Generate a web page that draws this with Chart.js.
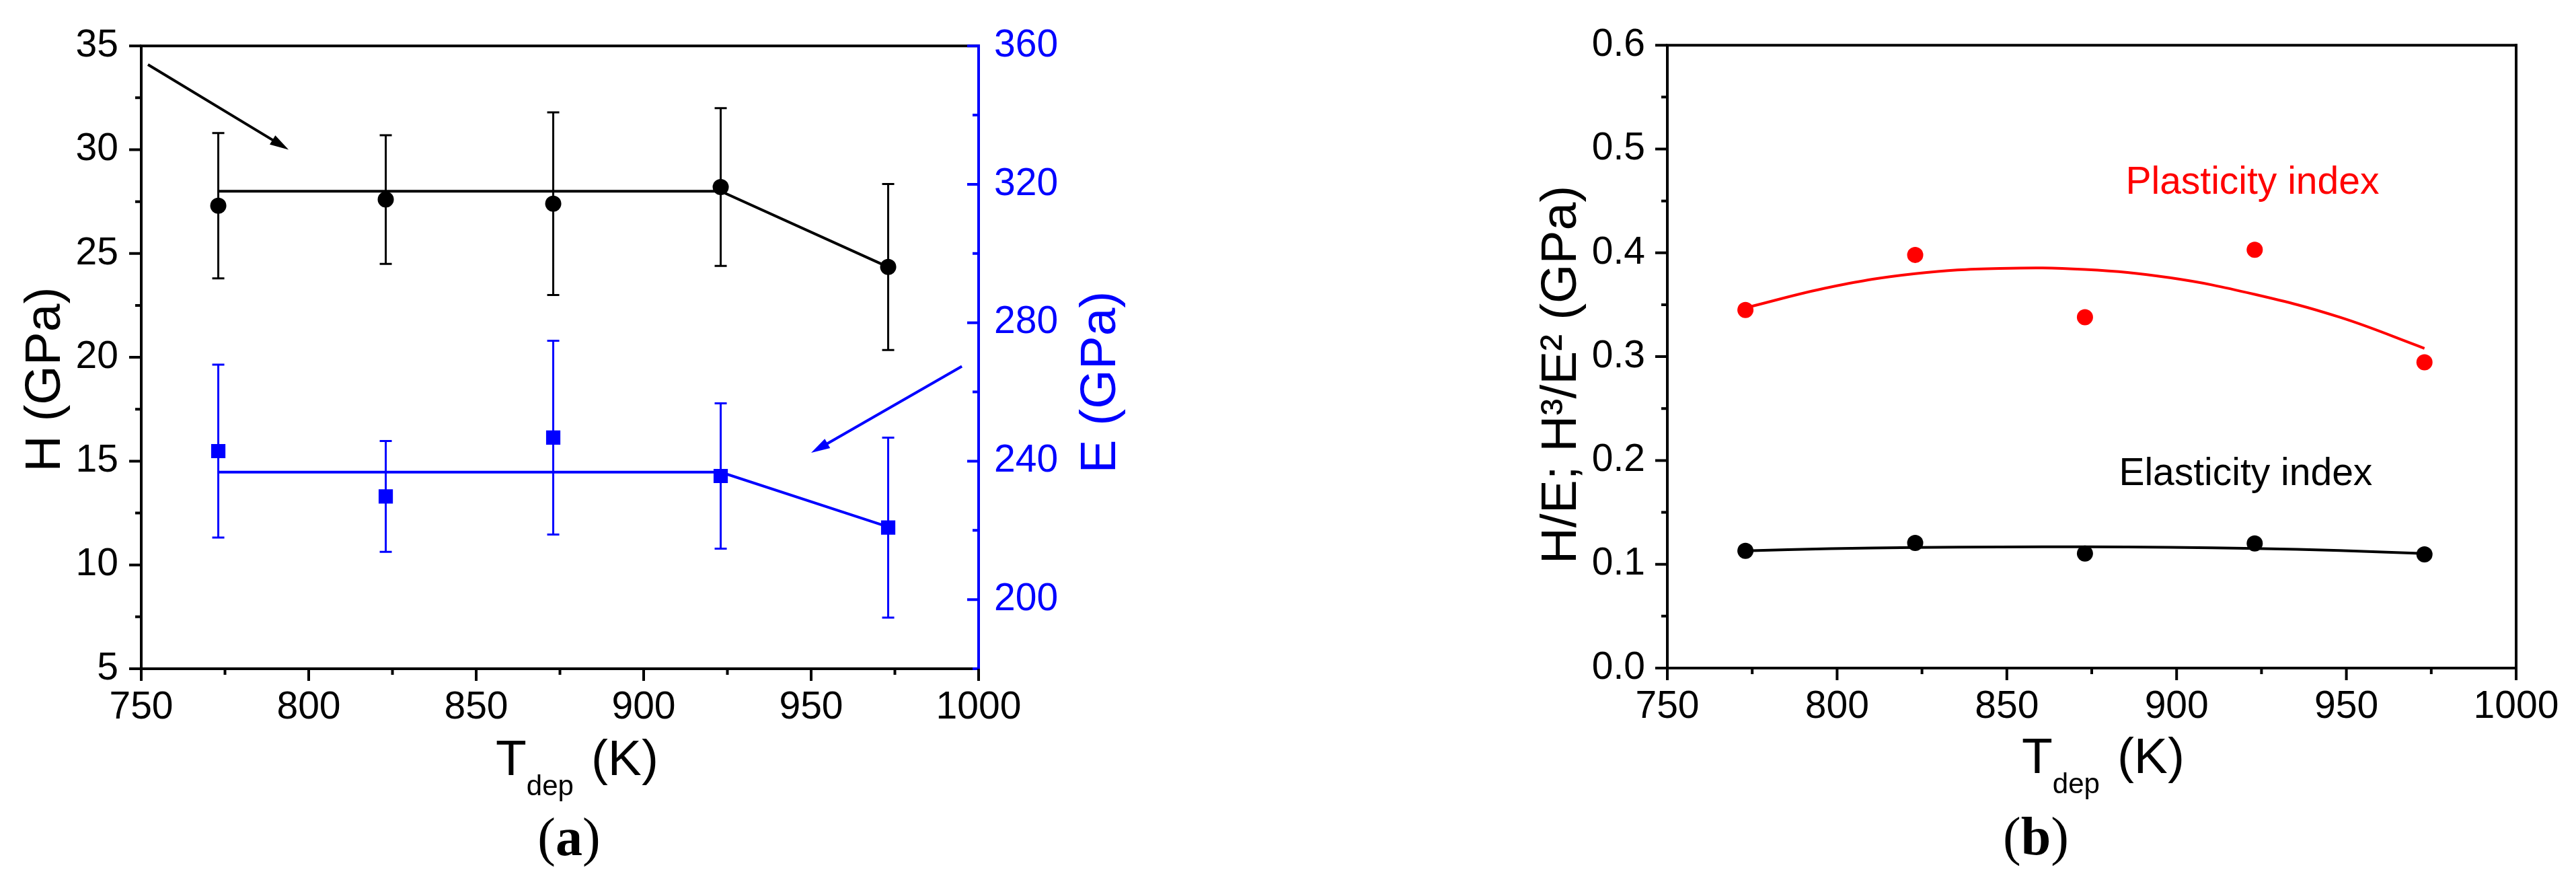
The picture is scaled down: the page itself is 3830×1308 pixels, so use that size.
<!DOCTYPE html>
<html>
<head>
<meta charset="utf-8">
<script src="https://cdn.jsdelivr.net/npm/chart.js@4.4.1/dist/chart.umd.min.js"></script>
<style>
    html, body { margin: 0; padding: 0; background: #fff; }
    #page { position: relative; width: 3830px; height: 1308px; background: #fff; }
    .panel { position: absolute; top: 0; }
    #panelA { left: 0; }
    #panelB { left: 2100px; }
</style>
</head>
<body>
<div id="page">
    <div class="panel" id="panelA"><canvas id="chartA" width="1760" height="1308"></canvas></div>
    <div class="panel" id="panelB"><canvas id="chartB" width="1730" height="1308"></canvas></div>
</div>
<script>
// Deposition temperatures (K)
const temps = [773, 823, 873, 923, 973];

// (a) hardness H and modulus E, with error bars and the guide lines
const hardness = [27.3, 27.6, 27.4, 28.2, 24.35];
const hardnessErr = [3.5, 3.1, 4.4, 3.8, 4.0];
const hardnessTrend = [28.0, 28.0, 28.0, 28.0, 24.35];
const modulus = [242.9, 229.8, 246.8, 235.7, 220.8];
const modulusErr = [25, 16, 28, 21, 26];
const modulusTrend = [236.8, 236.8, 236.8, 236.8, 221.0];

// arrows pointing to the axis of each series: x0, y0, x1, y1 (data units)
const hArrow = [752, 34.1, 794, 30.0];
const eArrow = [995, 267.4, 950, 242.4];

// (b) plasticity (H3/E2) and elasticity (H/E) indexes, with the fitted curves
const plasticity = [0.345, 0.398, 0.338, 0.403, 0.2945];
const elasticity = [0.113, 0.1205, 0.1104, 0.120, 0.1095];
const fitTemps = [773, 798, 823, 848, 873, 898, 923, 948, 973];
const plasticityFit = [0.347, 0.367, 0.380, 0.385, 0.384, 0.376, 0.360, 0.338, 0.308];
const elasticityFit = [0.1130, 0.1150, 0.1162, 0.1167, 0.1168, 0.1164, 0.1152, 0.1132, 0.1103];
const plasticityNote = [885, 0.4568];
const elasticityNote = [883, 0.1763];

// tick labels and minor ticks
const tempTicks = [750, 800, 850, 900, 950, 1000];
const tempMinor = [775, 825, 875, 925, 975];
const hTicks = [5, 10, 15, 20, 25, 30, 35];
const hMinor = [7.5, 12.5, 17.5, 22.5, 27.5, 32.5];
const eTicks = [200, 240, 280, 320, 360];
const eMinor = [180, 220, 260, 300, 340];
const ratioTicks = [0.0, 0.1, 0.2, 0.3, 0.4, 0.5, 0.6];
const ratioMinor = [0.05, 0.15, 0.25, 0.35, 0.45, 0.55];

const sans = '"Liberation Sans", Arial, sans-serif';
const serif = '"Liberation Serif", "Times New Roman", serif';
const blue = '#0000ff';
const red = '#ff0000';

function pts(xs, ys) {
    return xs.map((x, i) => ({ x: x, y: ys[i] }));
}

function fixedTicks(values) {
    return (scale) => { scale.ticks = values.map((v) => ({ value: v })); };
}

function drawErrorBars(chart) {
    const ctx = chart.ctx;
    for (const ds of chart.data.datasets) {
        if (!ds.errors) continue;
        const xs = chart.scales.x;
        const ys = chart.scales[ds.yAxisID];
        ctx.save();
        ctx.strokeStyle = ds.borderColor;
        ctx.lineWidth = 3;
        ctx.beginPath();
        ds.data.forEach((p, k) => {
            const px = xs.getPixelForValue(p.x);
            const top = ys.getPixelForValue(p.y + ds.errors[k]);
            const bot = ys.getPixelForValue(p.y - ds.errors[k]);
            ctx.moveTo(px, top); ctx.lineTo(px, bot);
            ctx.moveTo(px - 9, top); ctx.lineTo(px + 9, top);
            ctx.moveTo(px - 9, bot); ctx.lineTo(px + 9, bot);
        });
        ctx.stroke();
        ctx.restore();
    }
}

function drawFrame(ctx, area, rightColor) {
    ctx.save();
    ctx.lineWidth = 4;
    ctx.lineCap = 'square';
    ctx.strokeStyle = '#000';
    ctx.beginPath();
    ctx.moveTo(area.right, area.top);
    ctx.lineTo(area.left, area.top);
    ctx.lineTo(area.left, area.bottom);
    ctx.lineTo(area.right, area.bottom);
    ctx.stroke();
    ctx.strokeStyle = rightColor;
    ctx.beginPath();
    ctx.moveTo(area.right, area.top);
    ctx.lineTo(area.right, area.bottom);
    ctx.stroke();
    ctx.restore();
}

// horizontal tick marks on a vertical axis, len < 0 goes left
function yTickMarks(ctx, scale, x, values, len, color) {
    ctx.save();
    ctx.strokeStyle = color;
    ctx.lineWidth = 4;
    ctx.beginPath();
    for (const v of values) {
        const y = scale.getPixelForValue(v);
        ctx.moveTo(x, y);
        ctx.lineTo(x + len, y);
    }
    ctx.stroke();
    ctx.restore();
}

function xTickMarks(ctx, scale, y, values, len) {
    ctx.save();
    ctx.strokeStyle = '#000';
    ctx.lineWidth = 4;
    ctx.beginPath();
    for (const v of values) {
        const x = scale.getPixelForValue(v);
        ctx.moveTo(x, y);
        ctx.lineTo(x, y + len);
    }
    ctx.stroke();
    ctx.restore();
}

function drawArrow(ctx, xs, ys, arr, color) {
    const x0 = xs.getPixelForValue(arr[0]), y0 = ys.getPixelForValue(arr[1]);
    const x1 = xs.getPixelForValue(arr[2]), y1 = ys.getPixelForValue(arr[3]);
    const ang = Math.atan2(y1 - y0, x1 - x0);
    const head = 28, half = 8;
    const c = Math.cos(ang), s = Math.sin(ang);
    ctx.save();
    ctx.strokeStyle = color;
    ctx.fillStyle = color;
    ctx.lineWidth = 4;
    ctx.beginPath();
    ctx.moveTo(x0, y0);
    ctx.lineTo(x1 - c * head * 0.8, y1 - s * head * 0.8);
    ctx.stroke();
    ctx.beginPath();
    ctx.moveTo(x1, y1);
    ctx.lineTo(x1 - head * c + half * s, y1 - head * s - half * c);
    ctx.lineTo(x1 - head * c - half * s, y1 - head * s + half * c);
    ctx.closePath();
    ctx.fill();
    ctx.restore();
}

// axis title reading bottom to top, x is the baseline
function rotatedTitle(ctx, text, x, y, color) {
    ctx.save();
    ctx.translate(x, y);
    ctx.rotate(-Math.PI / 2);
    ctx.font = '75px ' + sans;
    ctx.fillStyle = color;
    ctx.textAlign = 'center';
    ctx.textBaseline = 'alphabetic';
    ctx.fillText(text, 0, 0);
    ctx.restore();
}

// "T_dep (K)" with a real subscript
function tempTitle(ctx, x, y) {
    ctx.save();
    ctx.fillStyle = '#000';
    ctx.textBaseline = 'alphabetic';
    ctx.textAlign = 'left';
    ctx.font = '75px ' + sans;
    ctx.fillText('T', x, y);
    x += ctx.measureText('T').width;
    ctx.font = '42px ' + sans;
    ctx.fillText('dep', x, y + 30);
    x += ctx.measureText('dep').width + 26;
    ctx.font = '75px ' + sans;
    ctx.fillText('(K)', x, y);
    ctx.restore();
}

function panelLabel(ctx, letter, cx, y) {
    ctx.save();
    ctx.fillStyle = '#000';
    ctx.textBaseline = 'alphabetic';
    ctx.textAlign = 'left';
    ctx.font = '80px ' + serif;
    const wp = ctx.measureText('(').width;
    ctx.font = 'bold 80px ' + serif;
    const wl = ctx.measureText(letter).width;
    let x = cx - (2 * wp + wl) / 2;
    ctx.font = '80px ' + serif;
    ctx.fillText('(', x, y);
    x += wp;
    ctx.font = 'bold 80px ' + serif;
    ctx.fillText(letter, x, y);
    x += wl;
    ctx.font = '80px ' + serif;
    ctx.fillText(')', x, y);
    ctx.restore();
}

function note(ctx, text, xs, ys, pos, color) {
    ctx.save();
    ctx.font = '57px ' + sans;
    ctx.fillStyle = color;
    ctx.textAlign = 'left';
    ctx.textBaseline = 'alphabetic';
    ctx.fillText(text, xs.getPixelForValue(pos[0]), ys.getPixelForValue(pos[1]));
    ctx.restore();
}

const decorA = {
    id: 'decorA',
    beforeDatasetsDraw(chart) {
        drawErrorBars(chart);
    },
    afterDraw(chart) {
        const ctx = chart.ctx, a = chart.chartArea, s = chart.scales;
        drawFrame(ctx, a, blue);
        yTickMarks(ctx, s.y, a.left, hTicks, -18, '#000');
        yTickMarks(ctx, s.y, a.left, hMinor, -9, '#000');
        yTickMarks(ctx, s.y2, a.right, eTicks, -17, blue);
        yTickMarks(ctx, s.y2, a.right, eMinor, -9, blue);
        xTickMarks(ctx, s.x, a.bottom, tempTicks, 18);
        xTickMarks(ctx, s.x, a.bottom, tempMinor, 9);
        drawArrow(ctx, s.x, s.y, hArrow, '#000');
        drawArrow(ctx, s.x, s.y2, eArrow, blue);
        const mid = (a.top + a.bottom) / 2;
        rotatedTitle(ctx, 'H (GPa)', a.left - 121, mid + 33, '#000');
        rotatedTitle(ctx, 'E (GPa)', a.right + 203, mid + 37, blue);
        tempTitle(ctx, a.left + 527, a.bottom + 158);
        panelLabel(ctx, 'a', a.left + 636, a.bottom + 277);
    }
};

const decorB = {
    id: 'decorB',
    afterDraw(chart) {
        const ctx = chart.ctx, a = chart.chartArea, s = chart.scales;
        drawFrame(ctx, a, '#000');
        yTickMarks(ctx, s.y, a.left, ratioTicks, -18, '#000');
        yTickMarks(ctx, s.y, a.left, ratioMinor, -9, '#000');
        xTickMarks(ctx, s.x, a.bottom, tempTicks, 18);
        xTickMarks(ctx, s.x, a.bottom, tempMinor, 9);
        note(ctx, 'Plasticity index', s.x, s.y, plasticityNote, red);
        note(ctx, 'Elasticity index', s.x, s.y, elasticityNote, '#000');
        const mid = (a.top + a.bottom) / 2;
        rotatedTitle(ctx, 'H/E; H\u00b3/E\u00b2 (GPa)', a.left - 136, mid + 27, '#000');
        tempTitle(ctx, a.left + 527, a.bottom + 156);
        panelLabel(ctx, 'b', a.left + 548, a.bottom + 277);
    }
};

function tickFont() {
    return { family: sans, size: 57 };
}

function xScale(height) {
    return {
        type: 'linear',
        min: 750,
        max: 1000,
        afterBuildTicks: fixedTicks(tempTicks),
        afterFit: (scale) => { scale.height = height; },
        grid: { display: false, drawTicks: false },
        border: { display: false },
        ticks: {
            font: tickFont(),
            color: '#000',
            padding: 24,
            maxRotation: 0,
            autoSkip: false,
            callback: (v) => String(v)
        }
    };
}

const baseOptions = {
    responsive: false,
    animation: false,
    events: [],
    plugins: { legend: { display: false }, tooltip: { enabled: false } }
};

new Chart(document.querySelector('#chartA'), {
    type: 'scatter',
    data: {
        datasets: [
            {
                data: pts(temps, hardness),
                errors: hardnessErr,
                yAxisID: 'y',
                pointStyle: 'circle',
                pointRadius: 12,
                backgroundColor: '#000',
                borderColor: '#000',
                borderWidth: 0
            },
            {
                data: pts(temps, modulus),
                errors: modulusErr,
                yAxisID: 'y2',
                pointStyle: 'rect',
                pointRadius: 15,
                backgroundColor: blue,
                borderColor: blue,
                borderWidth: 0
            },
            {
                data: pts(temps, hardnessTrend),
                yAxisID: 'y',
                showLine: true,
                pointRadius: 0,
                borderColor: '#000',
                borderWidth: 4
            },
            {
                data: pts(temps, modulusTrend),
                yAxisID: 'y2',
                showLine: true,
                pointRadius: 0,
                borderColor: blue,
                borderWidth: 4
            }
        ]
    },
    options: {
        ...baseOptions,
        layout: { padding: { top: 64, left: 0, right: 0, bottom: 0 } },
        scales: {
            x: xScale(314),
            y: {
                position: 'left',
                min: 5,
                max: 35,
                afterBuildTicks: fixedTicks(hTicks),
                afterFit: (scale) => { scale.width = 210; },
                grid: { display: false, drawTicks: false },
                border: { display: false },
                ticks: { font: tickFont(), color: '#000', padding: 34, callback: (v) => String(v) }
            },
            y2: {
                position: 'right',
                min: 180,
                max: 360,
                afterBuildTicks: fixedTicks(eTicks),
                afterFit: (scale) => { scale.width = 305; },
                grid: { display: false, drawTicks: false },
                border: { display: false },
                ticks: { font: tickFont(), color: blue, padding: 23, callback: (v) => String(v) }
            }
        }
    },
    plugins: [decorA]
});

new Chart(document.querySelector('#chartB'), {
    type: 'scatter',
    data: {
        datasets: [
            {
                data: pts(temps, plasticity),
                yAxisID: 'y',
                pointRadius: 12,
                backgroundColor: red,
                borderWidth: 0
            },
            {
                data: pts(temps, elasticity),
                yAxisID: 'y',
                pointRadius: 12,
                backgroundColor: '#000',
                borderWidth: 0
            },
            {
                data: pts(fitTemps, plasticityFit),
                yAxisID: 'y',
                showLine: true,
                pointRadius: 0,
                borderColor: red,
                borderWidth: 4,
                tension: 0.4
            },
            {
                data: pts(fitTemps, elasticityFit),
                yAxisID: 'y',
                showLine: true,
                pointRadius: 0,
                borderColor: '#000',
                borderWidth: 4,
                tension: 0.4
            }
        ]
    },
    options: {
        ...baseOptions,
        layout: { padding: { top: 52, left: 0, right: 89, bottom: 0 } },
        scales: {
            x: xScale(315),
            y: {
                position: 'left',
                min: 0,
                max: 0.6,
                afterBuildTicks: fixedTicks(ratioTicks),
                afterFit: (scale) => { scale.width = 379; },
                grid: { display: false, drawTicks: false },
                border: { display: false },
                ticks: {
                    font: tickFont(),
                    color: '#000',
                    padding: 33,
                    callback: (v) => Number(v).toFixed(1)
                }
            }
        }
    },
    plugins: [decorB]
});
</script>
</body>
</html>
